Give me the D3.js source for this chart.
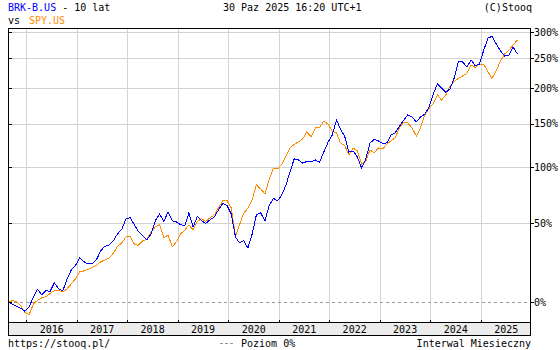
<!DOCTYPE html>
<html lang="pl">
<head>
<meta charset="UTF-8">
<title>BRK-B.US vs SPY.US - 10 lat</title>
<script src="https://cdn.jsdelivr.net/npm/d3@7"></script>
<style>
    body { margin: 0; background: #fff; }
    svg text { font-family: 'DejaVu Sans Mono', monospace; font-size: 10px; fill: #000; }
</style>
</head>
<body>
<svg id="chart" width="560" height="350"></svg>
<script>
    // monthly % change since start
    const brkValues = [
        0, -1.1, -2.1, -3.1, -4.6, -2.4, 2.8, 6.8, 3.8, 6.0, 5.7, 10.4, 7.1, 6.0, 12.7, 18.0,
        20.8, 25.5, 23.0, 21.7, 21.7, 24.2, 30.1, 33.2, 34.2, 37.0, 42.0, 45.3, 53.4, 54.2, 48.7, 43.8,
        40.5, 37.7, 42.0, 51.8, 57.3, 51.3, 59.0, 51.8, 51.0, 48.7, 48.3, 58.2, 47.2, 55.3, 51.8, 49.9,
        52.6, 54.9, 60.6, 66.1, 64.4, 57.3, 39.8, 35.6, 37.0, 32.1, 42.0, 56.5, 58.2, 51.8, 63.9, 70.4,
        68.2, 73.5, 82.6, 95.2, 108.7, 107.6, 104.1, 106.0, 105.5, 107.6, 105.0, 116.3, 127.1, 136.0, 154.9, 143.4,
        134.2, 116.3, 117.4, 110.8, 99.3, 108.7, 126.6, 130.6, 128.9, 126.0, 126.6, 136.0, 138.5, 146.6, 154.3, 161.6,
        158.9, 152.3, 158.9, 162.5, 171.8, 191.3, 206.7, 200.4, 193.6, 198.9, 216.3, 243.4, 243.4, 234.6, 246.9, 236.4,
        239.8, 265.2, 288.4, 291.4, 276.6, 263.3, 254.1, 255.9, 270.9, 257.7
    ];
    const spyValues = [
        0, 0.7, 0.4, -1.9, -5.1, -6.3, -0.9, 0.9, 2.2, 2.8, 4.6, 6.1, 6.1, 5.4, 7.1, 9.8,
        12.7, 16.8, 17.4, 18.3, 19.6, 20.8, 23.0, 24.2, 25.5, 28.5, 33.2, 35.6, 39.8, 39.8, 34.5, 33.9,
        37.0, 38.0, 43.5, 47.2, 48.7, 39.1, 41.3, 32.8, 36.3, 42.0, 44.9, 48.7, 44.9, 51.4, 53.4, 51.4,
        54.2, 56.5, 62.3, 68.2, 68.6, 62.3, 40.5, 48.7, 57.8, 62.3, 69.1, 82.6, 78.9, 74.4, 87.4, 98.8,
        98.3, 102.9, 111.9, 120.8, 124.8, 127.7, 131.2, 139.7, 133.6, 144.7, 145.3, 153.6, 149.7, 140.3, 138.5, 126.6,
        123.6, 113.0, 120.8, 117.4, 103.4, 106.6, 118.5, 115.2, 120.8, 119.7, 125.4, 128.9, 132.4, 144.7, 151.7, 151.0,
        144.7, 134.8, 144.7, 161.6, 170.4, 176.8, 189.8, 182.5, 189.8, 203.6, 210.6, 215.5, 219.5, 224.0, 238.1, 233.8,
        239.8, 238.9, 226.2, 215.5, 227.9, 245.1, 257.7, 264.2, 274.7, 284.4
    ];
    const yTicks = [0, 50, 100, 150, 200, 250, 300];
    const years = [2016, 2017, 2018, 2019, 2020, 2021, 2022, 2023, 2024, 2025];

    const firstDate = new Date(2015, 7, 21);
    const dates = brkValues.map((v, i) => d3.timeMonth.offset(firstDate, i));

    const plotLeft = 8, plotRight = 530, plotTop = 28, plotBottom = 322.5, bandBottom = 335;
    const blue = "#0000ff", orange = "#ff8c00";

    const svg = d3.select("#chart");

    const x = d3.scaleTime()
        .domain([firstDate, new Date(2025, 11, 21)])
        .range([plotLeft, plotRight]);
    const y = d3.scaleLog()
        .domain([0.9006, 4.088])
        .range([plotBottom, plotTop]);
    const yp = p => Math.round(y(1 + p / 100)) + 0.5;
    const xp = d => Math.round(x(d)) + 0.5;

    const grid = svg.append("g").attr("shape-rendering", "crispEdges");

    // vertical year lines
    grid.selectAll(".vgrid")
        .data(years)
        .enter().append("line")
        .attr("x1", d => xp(new Date(d, 0, 1))).attr("x2", d => xp(new Date(d, 0, 1)))
        .attr("y1", plotTop).attr("y2", plotBottom)
        .attr("stroke", "#d3d3d3");

    // horizontal grid lines
    grid.selectAll(".hgrid")
        .data(yTicks.filter(t => t !== 0))
        .enter().append("line")
        .attr("x1", plotLeft).attr("x2", plotRight)
        .attr("y1", yp).attr("y2", yp)
        .attr("stroke", "#d3d3d3");

    // 0% level
    grid.append("line")
        .attr("x1", plotLeft).attr("x2", plotRight)
        .attr("y1", yp(0)).attr("y2", yp(0))
        .attr("stroke", "#999").attr("stroke-dasharray", "3,3");

    // bottom band with years
    grid.append("rect")
        .attr("x", plotLeft).attr("y", plotBottom)
        .attr("width", plotRight - plotLeft).attr("height", bandBottom - plotBottom)
        .attr("fill", "#ececec");

    svg.selectAll(".year")
        .data(years)
        .enter().append("text")
        .attr("x", d => x(new Date(d, 6, 2)))
        .attr("y", 333)
        .attr("text-anchor", "middle")
        .text(d => d);

    // series
    const line = d3.line()
        .x((d, i) => x(dates[i]))
        .y(d => y(1 + d / 100));

    svg.append("path")
        .datum(spyValues)
        .attr("d", line)
        .attr("fill", "none")
        .attr("stroke", orange)
        .attr("stroke-width", 1)
        .attr("shape-rendering", "crispEdges");

    svg.append("path")
        .datum(brkValues)
        .attr("d", line)
        .attr("fill", "none")
        .attr("stroke", blue)
        .attr("stroke-width", 1)
        .attr("shape-rendering", "crispEdges");

    // frame and ticks
    const frame = svg.append("g").attr("stroke", "#000").attr("shape-rendering", "crispEdges");
    frame.append("line").attr("x1", plotLeft).attr("x2", plotRight + 0.5).attr("y1", plotTop + 0.5).attr("y2", plotTop + 0.5);
    frame.append("line").attr("x1", plotLeft + 0.5).attr("x2", plotLeft + 0.5).attr("y1", plotTop).attr("y2", bandBottom + 0.5);
    frame.append("line").attr("x1", plotRight + 0.5).attr("x2", plotRight + 0.5).attr("y1", plotTop).attr("y2", bandBottom + 0.5);
    frame.append("line").attr("x1", plotLeft).attr("x2", plotRight + 0.5).attr("y1", bandBottom + 0.5).attr("y2", bandBottom + 0.5);
    frame.append("line").attr("x1", plotLeft).attr("x2", plotRight).attr("y1", plotBottom).attr("y2", plotBottom);

    frame.selectAll(".rtick")
        .data(yTicks)
        .enter().append("line")
        .attr("x1", plotRight).attr("x2", plotRight + 4)
        .attr("y1", yp).attr("y2", yp);
    frame.selectAll(".ltick")
        .data(yTicks)
        .enter().append("line")
        .attr("x1", plotLeft).attr("x2", plotLeft + 4)
        .attr("y1", yp).attr("y2", yp);
    frame.selectAll(".xtick")
        .data(years)
        .enter().append("line")
        .attr("x1", d => xp(new Date(d, 0, 1))).attr("x2", d => xp(new Date(d, 0, 1)))
        .attr("y1", plotBottom - 3).attr("y2", plotBottom);

    svg.selectAll(".ylabel")
        .data(yTicks)
        .enter().append("text")
        .attr("x", plotRight + 4)
        .attr("y", d => y(1 + d / 100))
        .attr("dy", "0.35em")
        .text(d => d + "%");

    // header
    const h1 = svg.append("text").attr("x", 8).attr("y", 11);
    h1.append("tspan").style("fill", blue).text("BRK-B.US");
    h1.append("tspan").text(" - 10 lat");
    const h2 = svg.append("text").attr("x", 8).attr("y", 24);
    h2.append("tspan").text("vs ");
    h2.append("tspan").attr("x", 29).style("fill", orange).text("SPY.US");
    svg.append("text").attr("x", 223).attr("y", 11).text("30 Paz 2025 16:20 UTC+1");
    svg.append("text").attr("x", 532).attr("y", 11).attr("text-anchor", "end").text("(C)Stooq");

    // footer
    svg.append("text").attr("x", 8).attr("y", 347).text("https://stooq.pl/");
    svg.append("line")
        .attr("x1", 220).attr("x2", 235).attr("y1", 343.5).attr("y2", 343.5)
        .attr("stroke", "#999").attr("stroke-dasharray", "3,2")
        .attr("shape-rendering", "crispEdges");
    svg.append("text").attr("x", 241).attr("y", 347).text("Poziom 0%");
    svg.append("text").attr("x", 531).attr("y", 347).attr("text-anchor", "end").text("Interwal Miesieczny");
</script>
</body>
</html>
